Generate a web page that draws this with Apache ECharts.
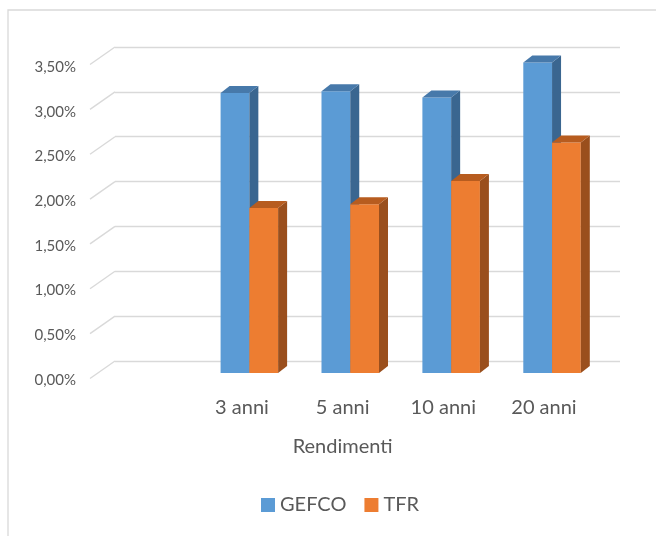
<!DOCTYPE html>
<html>
<head>
<meta charset="utf-8">
<script src="https://cdn.jsdelivr.net/npm/echarts@6/dist/echarts.min.js"></script>
<style>
html,body{margin:0;padding:0;background:#fff;}
#c{width:656px;height:536px;}
</style>
</head>
<body>
<div id="c"></div>
<script>
// ---- data ----
const categories = ['3 anni', '5 anni', '10 anni', '20 anni'];
const gefco = [3.12, 3.14, 3.07, 3.46];
const tfr = [1.84, 1.88, 2.14, 2.57];
const yTicks = [0, 0.5, 1, 1.5, 2, 2.5, 3, 3.5];
const seriesNames = ['GEFCO', 'TFR'];

const axisCats = [''].concat(categories);
const FONT = 'Lato';
const TXT = '#595959';
const GRID = '#d9d9d9';

function pct(v) { return v.toFixed(2).replace('.', ',') + '%'; }

function makeBar(front, side, top, sign) {
  return function (params, api) {
    const idx = api.value(0), v = api.value(1);
    const p = api.coord([idx, v]);
    const b = api.coord([idx, 0]);
    const band = api.size([1, 0])[0];
    const w = band * 0.285;
    const x0 = sign < 0 ? p[0] - w : p[0];
    const x1 = x0 + w;
    const dx = 9, dy = 7;
    return {
      type: 'group',
      children: [
        { type: 'rect', shape: { x: x0, y: p[1], width: w, height: b[1] - p[1] }, style: { fill: front } },
        { type: 'polygon', shape: { points: [[x1, p[1]], [x1 + dx, p[1] - dy], [x1 + dx, b[1] - dy], [x1, b[1]]] }, style: { fill: side } },
        { type: 'polygon', shape: { points: [[x0, p[1]], [x0 + dx, p[1] - dy], [x1 + dx, p[1] - dy], [x1, p[1]]] }, style: { fill: top } }
      ]
    };
  };
}

const chart = echarts.init(document.getElementById('c'), null, { renderer: 'canvas' });
chart.setOption({
  animation: false,
  backgroundColor: '#fff',
  graphic: [{
    type: 'rect', shape: { x: 8, y: 10, width: 700, height: 600 },
    style: { fill: 'none', stroke: '#d9d9d9', lineWidth: 1.3 }, silent: true, z: -10
  }],
  legend: {
    data: seriesNames.map(n => ({ name: n, icon: 'rect' })),
    left: 261, top: 495, padding: 0,
    itemWidth: 14, itemHeight: 14, itemGap: 18,
    textStyle: { fontFamily: FONT, fontSize: 20, color: TXT }
  },
  grid: [
    { left: 115, right: 36, top: 47, bottom: 175 },      // 0 back wall
    { left: 98, right: 53.5, top: 59, bottom: 163 },     // 1 bars
    { left: 84, width: 10, top: 67, bottom: 156 },       // 2 y labels
    { left: 91, right: 61.7, top: 100, bottom: 141 }     // 3 x labels
  ],
  xAxis: [
    { gridIndex: 0, type: 'value', min: 0, max: 1, show: false },
    { gridIndex: 1, type: 'category', data: axisCats, show: false },
    { gridIndex: 2, type: 'value', min: 0, max: 1, show: false },
    {
      gridIndex: 3, type: 'category', data: axisCats,
      axisLine: { show: false }, axisTick: { show: false },
      axisLabel: { fontFamily: FONT, fontSize: 20, color: TXT, margin: 3, interval: 0 },
      name: 'Rendimenti', nameLocation: 'middle', nameGap: 42,
      nameTextStyle: { fontFamily: FONT, fontSize: 20, color: TXT }
    }
  ],
  yAxis: [
    {
      gridIndex: 0, type: 'value', min: 0, max: 3.5, interval: 0.5,
      axisLine: { show: false }, axisTick: { show: false }, axisLabel: { show: false },
      splitLine: { lineStyle: { color: GRID, width: 1.4 } }
    },
    { gridIndex: 1, type: 'value', min: 0, max: 3.5, interval: 0.5, show: false },
    {
      gridIndex: 2, type: 'value', min: 0, max: 3.5, interval: 0.5,
      axisLine: { show: false }, axisTick: { show: false }, splitLine: { show: false },
      axisLabel: { fontFamily: FONT, fontSize: 15, color: TXT, margin: 8, formatter: pct }
    },
    { gridIndex: 3, type: 'value', show: false }
  ],
  series: [
    {
      type: 'custom', name: '_diag', xAxisIndex: 0, yAxisIndex: 0, z: 1, silent: true,
      data: yTicks.map(v => [0, v]),
      renderItem: function (params, api) {
        const p = api.coord([0, api.value(1)]);
        return {
          type: 'line', shape: { x1: p[0] - 25, y1: p[1] + 17.5, x2: p[0], y2: p[1] },
          style: { stroke: GRID, lineWidth: 1.4 }
        };
      }
    },
    {
      type: 'custom', name: seriesNames[0], xAxisIndex: 1, yAxisIndex: 1, z: 3,
      itemStyle: { color: '#5B9BD5' },
      data: gefco.map((v, i) => [i + 1, v]),
      renderItem: makeBar('#5B9BD5', '#3A6690', '#4779AA', -1)
    },
    {
      type: 'custom', name: seriesNames[1], xAxisIndex: 1, yAxisIndex: 1, z: 4,
      itemStyle: { color: '#ED7D31' },
      data: tfr.map((v, i) => [i + 1, v]),
      renderItem: makeBar('#ED7D31', '#9A4F1D', '#B75C1F', 1)
    }
  ]
});
</script>
</body>
</html>
